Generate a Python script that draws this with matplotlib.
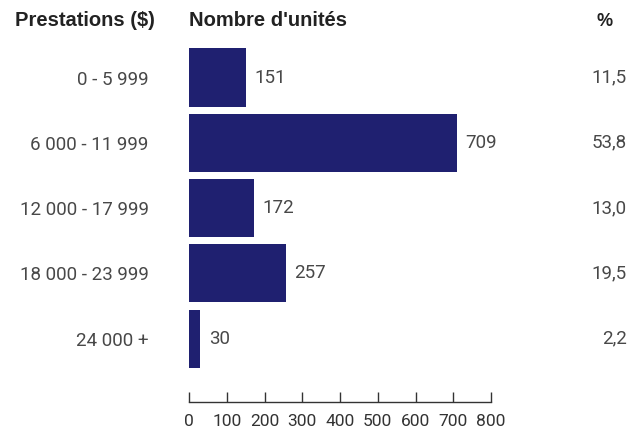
import matplotlib.pyplot as plt
from matplotlib import transforms

categories = ["0 - 5 999", "6 000 - 11 999", "12 000 - 17 999", "18 000 - 23 999", "24 000 +"]
units = [151, 709, 172, 257, 30]
percents = ["11,5", "53,8", "13,0", "19,5", "2,2"]
xticks = [0, 100, 200, 300, 400, 500, 600, 700, 800]

plt.rcParams['font.family'] = ['Roboto', 'DejaVu Sans']
txt = '#484848'
fs = 13.5
fw = 'normal'

fig = plt.figure(figsize=(6.38, 4.32), dpi=100)
ax = fig.add_axes([189 / 638, 1 - 402 / 432, 302 / 638, 362 / 432])

ypos = list(range(len(categories)))
ax.barh(ypos, units, height=0.89, color='#1f2070')
ax.set_xlim(0, 800)
ax.set_ylim(4.97, -0.575)

for s in ['top', 'right', 'left']:
    ax.spines[s].set_visible(False)
ax.spines['bottom'].set_color('#333333')
ax.spines['bottom'].set_linewidth(1.0)

# graduations vers le haut
ax.set_xticks(xticks)
ax.set_xticklabels([str(v) for v in xticks], fontsize=12.5, color='#333333', fontweight=fw)
ax.tick_params(axis='x', direction='in', length=7, width=1.0, color='#333333', pad=9)

ax.set_yticks(ypos)
ax.set_yticklabels(categories, fontsize=fs, color=txt, fontweight=fw)
ax.tick_params(axis='y', length=0, pad=29)

for y, v in zip(ypos, units):
    ax.annotate(str(v), (v, y), xytext=(6, 0), textcoords='offset points',
                va='center', ha='left', fontsize=fs, color=txt, fontweight=fw)

trans = transforms.blended_transform_factory(fig.transFigure, ax.transData)
for y, p in zip(ypos, percents):
    ax.text(627 / 638, y, p, transform=trans, ha='right', va='center',
            fontsize=fs, color=txt, fontweight=fw)

hy = 1 - 21 / 432
hfont = ['Liberation Sans', 'DejaVu Sans']
fig.text(15 / 638, hy, "Prestations ($)", fontsize=14.5, fontweight='bold', color='#222222',
         va='center', ha='left', family=hfont)
fig.text(189 / 638, hy, "Nombre d'unités", fontsize=14.5, fontweight='bold', color='#222222',
         va='center', ha='left', family=hfont)
fig.text(605 / 638, hy, "%", fontsize=13, fontweight='bold', color='#222222',
         va='center', ha='center', family=hfont)

plt.savefig('out.png', dpi=100)
